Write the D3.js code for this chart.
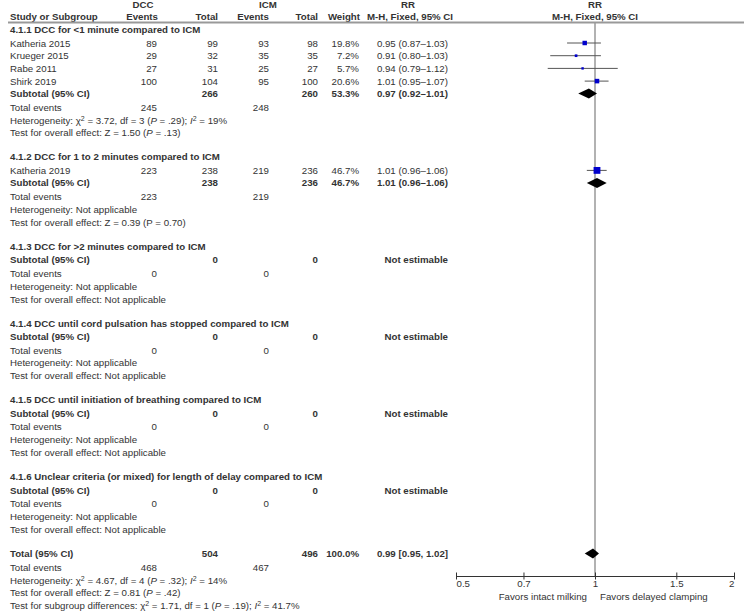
<!DOCTYPE html>
<html>
<head>
<meta charset="utf-8">
<script src="https://cdn.jsdelivr.net/npm/d3@7"></script>
<style>
  body { margin: 0; background: #fff; }
  text { font-family: "Liberation Sans", Arial, sans-serif; font-size: 9.7px; fill: #333; }
  .b { font-weight: bold; }
</style>
</head>
<body>
<div id="chart"></div>
<script>
// subgroups
var groupTitles = [
    "4.1.1 DCC for <1 minute compared to ICM",
    "4.1.2 DCC for 1 to 2 minutes compared to ICM",
    "4.1.3 DCC for >2 minutes compared to ICM",
    "4.1.4 DCC until cord pulsation has stopped compared to ICM",
    "4.1.5 DCC until initiation of breathing compared to ICM",
    "4.1.6 Unclear criteria (or mixed) for length of delay compared to ICM"
];
var subDccEvents = [245, 223, 0, 0, 0, 0];
var subDccTotal = [266, 238, 0, 0, 0, 0];
var subIcmEvents = [248, 219, 0, 0, 0, 0];
var subIcmTotal = [260, 236, 0, 0, 0, 0];
var subWeight = ["53.3%", "46.7%", null, null, null, null];
var subRR = [0.97, 1.01, null, null, null, null];
var subLow = [0.92, 0.96, null, null, null, null];
var subHigh = [1.01, 1.06, null, null, null, null];
var subHet = [
    "Heterogeneity: χ^2 = 3.72, df = 3 (*P* = .29); *I*^2 = 19%",
    "Heterogeneity: Not applicable",
    "Heterogeneity: Not applicable",
    "Heterogeneity: Not applicable",
    "Heterogeneity: Not applicable",
    "Heterogeneity: Not applicable"
];
var subTest = [
    "Test for overall effect: Z = 1.50 (*P* = .13)",
    "Test for overall effect: Z = 0.39 (P = 0.70)",
    "Test for overall effect: Not applicable",
    "Test for overall effect: Not applicable",
    "Test for overall effect: Not applicable",
    "Test for overall effect: Not applicable"
];

// studies
var studyNames = ["Katheria 2015", "Krueger 2015", "Rabe 2011", "Shirk 2019", "Katheria 2019"];
var studyGroup = [0, 0, 0, 0, 1];
var dccEvents = [89, 29, 27, 100, 223];
var dccTotal = [99, 32, 31, 104, 238];
var icmEvents = [93, 35, 25, 95, 219];
var icmTotal = [98, 35, 27, 100, 236];
var weights = [19.8, 7.2, 5.7, 20.6, 46.7];
var rr = [0.95, 0.91, 0.94, 1.01, 1.01];
var ciLow = [0.87, 0.80, 0.79, 0.95, 0.96];
var ciHigh = [1.03, 1.03, 1.12, 1.07, 1.06];

// overall
var totDcc = [468, 504];
var totIcm = [467, 496];
var totRR = [0.99, 0.95, 1.02];
var totLines = [
    "Heterogeneity: χ^2 = 4.67, df = 4 (*P* = .32); *I*^2 = 14%",
    "Test for overall effect: Z = 0.81 (*P* = .42)",
    "Test for subgroup differences: χ^2 = 1.71, df = 1 (*P* = .19); *I*^2 = 41.7%"
];

var axisTicks = [0.5, 0.7, 1, 1.5, 2];
var favorLabels = ["Favors intact milking", "Favors delayed clamping"];

const width = 744, height = 612;

// column positions (right edges for numbers)
const col = { name: 10, dccEv: 157, dccTot: 218, icmEv: 269, icmTot: 318, weight: 359, rr: 448 };

const svg = d3.select("#chart").append("svg")
    .attr("width", width)
    .attr("height", height);

const x = d3.scaleLog().domain([0.5, 2]).range([456, 734]);
const boxSize = d3.scaleSqrt().domain([0, 100]).range([0, 10]);
const axisY = 576;

function fmt(v) { return d3.format(".2f")(v); }
function ciText(m, l, h) { return fmt(m) + " (" + fmt(l) + "\u2013" + fmt(h) + ")"; }

// tiny markup: ^2 = superscript, *x* = italic
function rich(t, str) {
    var parts = str.split(/(\^2|\*[^*]+\*)/).filter(s => s.length);
    parts.forEach(p => {
        if (p === "^2") {
            t.append("tspan").attr("baseline-shift", "super").style("font-size", "7px").text("2");
        } else if (p[0] === "*") {
            t.append("tspan").style("font-style", "italic").text(p.slice(1, -1));
        } else {
            t.append("tspan").text(p);
        }
    });
}

function txt(xp, y, s, anchor, bold) {
    var t = svg.append("text")
        .attr("x", xp).attr("y", y + 3.5)
        .attr("text-anchor", anchor || "start");
    if (bold) t.attr("class", "b");
    rich(t, String(s));
    return t;
}

// header
txt(143, 4.5, "DCC", "middle", true);
txt(268, 4.5, "ICM", "middle", true);
txt(408, 4.5, "RR", "middle", true);
txt(x(1), 4.5, "RR", "middle", true);
var hy = 16.5;
txt(col.name, hy, "Study or Subgroup", "start", true);
txt(col.dccEv + 1, hy, "Events", "end", true);
txt(col.dccTot, hy, "Total", "end", true);
txt(col.icmEv, hy, "Events", "end", true);
txt(col.icmTot, hy, "Total", "end", true);
txt(col.weight + 1, hy, "Weight", "end", true);
txt(410, hy, "M-H, Fixed, 95% CI", "middle", true);
txt(x(1), hy, "M-H, Fixed, 95% CI", "middle", true);

svg.append("line")
    .attr("x1", 8).attr("x2", width).attr("y1", 22.5).attr("y2", 22.5)
    .attr("stroke", "#999").attr("stroke-width", 2);

// null line
svg.append("line")
    .attr("x1", x(1)).attr("x2", x(1)).attr("y1", 23).attr("y2", axisY)
    .attr("stroke", "#999").attr("stroke-width", 1.5);

function diamond(y, m, l, h) {
    svg.append("path")
        .attr("d", `M${x(l)},${y} L${x(m)},${y - 5} L${x(h)},${y} L${x(m)},${y + 5} Z`)
        .attr("fill", "#000");
}

var y = 29.5;
groupTitles.forEach((g, gi) => {
    txt(col.name, y, g, "start", true);
    y += 13.5;
    var idx = d3.range(studyNames.length).filter(i => studyGroup[i] === gi);
    idx.forEach((i, k) => {
        txt(col.name, y, studyNames[i]);
        txt(col.dccEv, y, dccEvents[i], "end");
        txt(col.dccTot, y, dccTotal[i], "end");
        txt(col.icmEv, y, icmEvents[i], "end");
        txt(col.icmTot, y, icmTotal[i], "end");
        txt(col.weight, y, weights[i].toFixed(1) + "%", "end");
        txt(col.rr, y, ciText(rr[i], ciLow[i], ciHigh[i]), "end");
        svg.append("line")
            .attr("x1", x(ciLow[i])).attr("x2", x(ciHigh[i]))
            .attr("y1", y).attr("y2", y)
            .attr("stroke", "#555").attr("stroke-width", 1);
        var s = boxSize(weights[i]);
        svg.append("rect")
            .attr("x", x(rr[i]) - s / 2).attr("y", y - s / 2)
            .attr("width", s).attr("height", s)
            .attr("fill", "#0000cc");
        y += (k === idx.length - 1) ? 12.5 : 12.7;
    });
    txt(col.name, y, "Subtotal (95% CI)", "start", true);
    txt(col.dccTot, y, subDccTotal[gi], "end", true);
    txt(col.icmTot, y, subIcmTotal[gi], "end", true);
    if (subRR[gi] !== null) {
        txt(col.weight, y, subWeight[gi], "end", true);
        txt(col.rr, y, ciText(subRR[gi], subLow[gi], subHigh[gi]), "end", true);
        diamond(y, subRR[gi], subLow[gi], subHigh[gi]);
    } else {
        txt(col.rr, y, "Not estimable", "end", true);
    }
    y += 13.5;
    txt(col.name, y, "Total events");
    txt(col.dccEv, y, subDccEvents[gi], "end");
    txt(col.icmEv, y, subIcmEvents[gi], "end");
    y += 12.9;
    txt(col.name, y, subHet[gi]);
    y += 12.9;
    txt(col.name, y, subTest[gi]);
    y += 24;
});

// overall
txt(col.name, y, "Total (95% CI)", "start", true);
txt(col.dccTot, y, totDcc[1], "end", true);
txt(col.icmTot, y, totIcm[1], "end", true);
txt(col.weight, y, "100.0%", "end", true);
txt(col.rr, y, fmt(totRR[0]) + " [" + fmt(totRR[1]) + ", " + fmt(totRR[2]) + "]", "end", true);
diamond(y, totRR[0], totRR[1], totRR[2]);
y += 14.3;
txt(col.name, y, "Total events");
txt(col.dccEv, y, totDcc[0], "end");
txt(col.icmEv, y, totIcm[0], "end");
totLines.forEach(l => {
    y += 12.6;
    txt(col.name, y, l);
});

// axis
const axis = d3.axisBottom(x).tickValues(axisTicks).tickSize(0).tickFormat(d3.format("~g"));
const ax = svg.append("g").attr("transform", `translate(0,${axisY})`).call(axis);
ax.select(".domain").attr("stroke", "#333");
ax.selectAll(".tick").append("line")
    .attr("y1", -3.5).attr("y2", 3.5).attr("stroke", "#333");
ax.selectAll(".tick text")
    .attr("y", 4.5).attr("dy", "0.71em")
    .attr("text-anchor", (d, i) => i === 0 ? "start" : (i === axisTicks.length - 1 ? "end" : "middle"))
    .style("font-family", "Liberation Sans, Arial, sans-serif")
    .style("font-size", "9.7px").attr("fill", "#333");

txt(x(1) - 8, 596, favorLabels[0], "end");
txt(x(1) + 5, 596, favorLabels[1], "start");
</script>
</body>
</html>
